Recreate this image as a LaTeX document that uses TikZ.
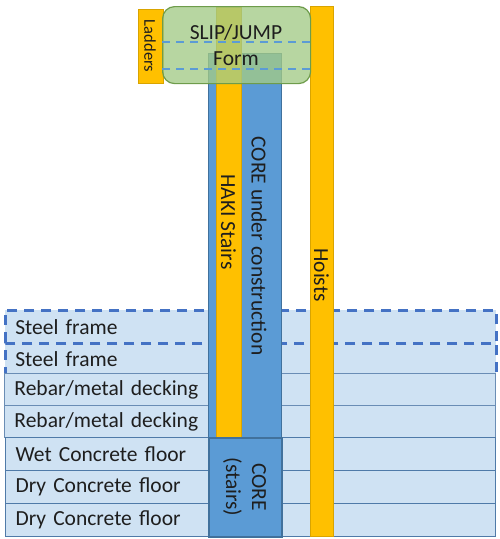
\documentclass[tikz,border=0pt]{standalone}
\usepackage{fontspec}
\setmainfont{Carlito}
\newcommand\lblfont{\fontsize{21.5}{26}\selectfont}
\newcommand\smallfont{\fontsize{16.5}{20}\selectfont}
\definecolor{floorfill}{HTML}{CFE2F3}
\definecolor{floorline}{HTML}{6A8DB5}
\definecolor{floorline2}{HTML}{4F7AA8}
\definecolor{dashblue}{HTML}{4472C4}
\definecolor{lightdash}{HTML}{5B9BD5}
\definecolor{corefill}{HTML}{5B9BD5}
\definecolor{coreline}{HTML}{41719C}
\definecolor{yel}{HTML}{FFC000}
\definecolor{yelline}{HTML}{D9A400}
\definecolor{formfill}{HTML}{A3CB86}
\definecolor{formline}{HTML}{6E9C4B}
\definecolor{txt}{HTML}{1E1E1E}
\tikzset{
  floorrow/.style={draw=floorline, fill=floorfill, line width=0.9pt,
    minimum width=491pt, minimum height=32pt, inner xsep=10pt, inner ysep=0pt,
    text width=471pt, align=left, anchor=north west, font=\lblfont, text=txt},
  steelrow/.style={floorrow, draw=dashblue, line width=2.6pt, dash pattern=on 10pt off 7pt},
  lowrow/.style={floorrow, draw=floorline2, line width=1.1pt, minimum width=490pt, text width=470pt, minimum height=33pt},
  corecol/.style={draw=coreline, fill=corefill, line width=0.6pt, anchor=north west, inner sep=0pt},
  yelcol/.style={draw=yelline, fill=yel, line width=0.7pt, anchor=north west, inner sep=0pt},
  formbox/.style={draw=formline, fill=formfill, fill opacity=0.78, line width=1.2pt,
    rounded corners=12pt, anchor=north west, inner sep=0pt},
  vlabel/.style={rotate=-90, font=\lblfont, text=txt, inner sep=0pt, align=center},
  formdash/.style={draw=lightdash, line width=2pt, dash pattern=on 8pt off 6pt}
}
\begin{document}
\begin{tikzpicture}[x=1pt,y=-1pt]
\useasboundingbox (0,0) rectangle (500,539);
% floors
\node[steelrow, minimum height=33pt] (f1) at (4,309) {Steel frame};
\node[steelrow, minimum height=31pt] (f2) at (4,342) {Steel frame};
\node[floorrow] (f3) at (4,373) {Rebar/metal decking};
\node[floorrow] (f4) at (4,405) {Rebar/metal decking};
\node[lowrow] (f5) at (5,437) {Wet Concrete floor};
\node[lowrow] (f6) at (5,470) {Dry Concrete floor};
\node[lowrow] (f7) at (5,503) {Dry Concrete floor};
% core and stairs
\node[corecol, minimum width=73pt, minimum height=384pt] (core) at (208,53) {};
\node[yelcol, minimum width=25pt, minimum height=430pt] (haki) at (216,7) {};
\node[corecol, draw=coreline, line width=1.6pt, minimum width=73pt, minimum height=99pt] (corestairs) at (208,437) {};
\node[vlabel] (corestairslbl) at (244.5,487) {CORE\\(stairs)};
% hoist and ladders
\node[yelcol, minimum width=23pt, minimum height=530pt] (hoist) at (310,6) {};
\node[yelcol, minimum width=25pt, minimum height=74pt] (ladders) at (138,9) {};
% form
\node[formbox, minimum width=148pt, minimum height=77pt] (form) at (162,6) {};
\coordinate (d1a) at (162,42); \coordinate (d1b) at (310,42);
\coordinate (d2a) at (162,69); \coordinate (d2b) at (310,69);
\draw[formdash] (d1a) -- (d1b);
\draw[formdash] (d2a) -- (d2b);
% labels
\node[font=\lblfont, text=txt, inner sep=0pt, align=center] (formlbl) at (236,45) {SLIP/JUMP\\Form};
\node[vlabel, font=\smallfont] (ladderslbl) at (150,46) {Ladders};
\node[vlabel] (hakilbl) at (228.5,222) {HAKI Stairs};
\node[vlabel] (corelbl) at (259,246) {CORE under construction};
\node[vlabel] (hoistlbl) at (321.5,275) {Hoists};
\end{tikzpicture}
\end{document}
